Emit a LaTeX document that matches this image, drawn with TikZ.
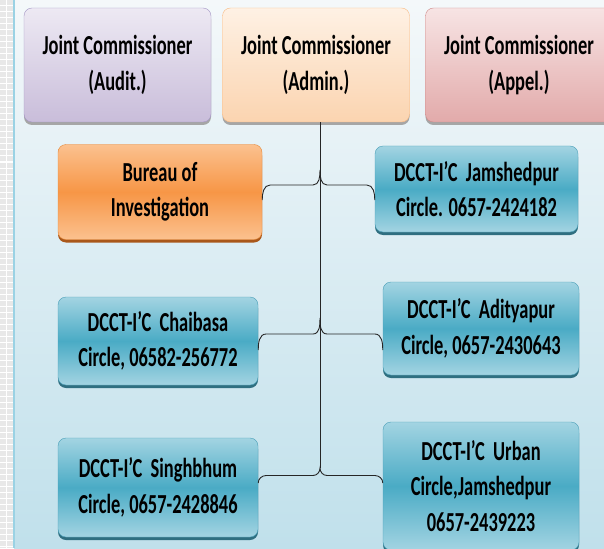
\documentclass[tikz,border=0pt]{standalone}
\usepackage{fontspec}
\setmainfont{Carlito}[FakeStretch=0.67]
\usetikzlibrary{shadows,calc}

\definecolor{panelTop}{HTML}{F4F8FA}
\definecolor{panelBot}{HTML}{C0E0EB}
\definecolor{panelLine}{HTML}{9AD2E4}
\definecolor{blueTop}{HTML}{A3D4E2}
\definecolor{blueMid}{HTML}{4AABC5}
\definecolor{blueLine}{HTML}{4A9FB8}
\definecolor{blueShade}{HTML}{2F6F80}
\definecolor{orgTop}{HTML}{FBC18F}
\definecolor{orgMid}{HTML}{F79646}
\definecolor{orgLine}{HTML}{E58A3C}
\definecolor{orgShade}{HTML}{A9571A}
\definecolor{auditTop}{HTML}{EDE9F3}
\definecolor{auditBot}{HTML}{C9BDDA}
\definecolor{auditLine}{HTML}{A597C6}
\definecolor{adminTop}{HTML}{FEF1E4}
\definecolor{adminBot}{HTML}{FBD4B0}
\definecolor{adminLine}{HTML}{F8BC86}
\definecolor{appelTop}{HTML}{F7E4E4}
\definecolor{appelBot}{HTML}{E2AAAA}
\definecolor{appelLine}{HTML}{CF8A8A}

\tikzset{
  box/.style={rectangle,rounded corners=8pt,align=center,inner sep=2pt,
    font=\bfseries\fontsize{27.5}{35.5}\selectfont},
  headbox/.style={box,minimum width=187pt,minimum height=114pt,
    drop shadow={shadow xshift=0pt,shadow yshift=-3pt,fill=gray!70,opacity=1}},
  unitbox/.style={box,draw=blueLine,top color=blueTop,bottom color=blueTop,middle color=blueMid,
    drop shadow={shadow xshift=0pt,shadow yshift=-3pt,fill=blueShade,opacity=1}},
  link/.style={draw=black!85,line width=0.9pt}
}

% brace from left box to right box, tip on the trunk line
\newcommand{\bracelink}[4]{%
  \draw[link] ($(#1.east |- #3)+(0,-2*#4)$) to[out=90,in=180] ++(8,#4)
    -- ($(#3)+(-7,-#4)$) to[out=0,in=-90] (#3)
    to[out=-90,in=180] ++(7,-#4)
    -- ($(#2.west |- #3)+(-8,-#4)$) to[out=0,in=90] ++(8,-#4);
}

\begin{document}
\begin{tikzpicture}[x=1pt,y=1pt]
  \clip (0,0) rectangle (604,-548);
  % backdrop
  \shade[top color=panelTop,bottom color=panelBot] (14,0) rectangle (604,-548);
  \fill[gray!18] (0,0) rectangle (13,-548);
  \foreach \k in {0,...,92}
    \draw[white,line width=1pt] (0,-\k*6) -- (13,-\k*6);
  \draw[white,line width=1pt] (6.5,0) -- (6.5,-548);
  \draw[panelLine,line width=1.5pt] (14,0) -- (14,-548);

  % top row
  \node[headbox,draw=auditLine,top color=auditTop,bottom color=auditBot] (audit) at (117.5,-65)
    {Joint Commissioner\\(Audit.)};
  \node[headbox,draw=adminLine,top color=adminTop,bottom color=adminBot] (admin) at (316,-65)
    {Joint Commissioner\\(Admin.)};
  \node[headbox,draw=appelLine,top color=appelTop,bottom color=appelBot] (appel) at (519,-65)
    {Joint Commissioner\\(Appel.)};

  % circles
  \node[box,draw=orgLine,top color=orgTop,bottom color=orgTop,middle color=orgMid,
    drop shadow={shadow xshift=0pt,shadow yshift=-3pt,fill=orgShade,opacity=1},
    minimum width=204pt,minimum height=95pt] (bureau) at (160,-192)
    {Bureau of\\Investigation};
  \node[unitbox,minimum width=203pt,minimum height=86pt] (jamshedpur) at (476.5,-189)
    {DCCT-I'C~~Jamshedpur\\Circle. 0657-2424182};
  \node[unitbox,minimum width=200pt,minimum height=88pt] (chaibasa) at (158,-341)
    {DCCT-I'C~~Chaibasa\\Circle, 06582-256772};
  \node[unitbox,minimum width=196pt,minimum height=93pt] (adityapur) at (481,-328.5)
    {DCCT-I'C~~Adityapur\\Circle, 0657-2430643};
  \node[unitbox,minimum width=200pt,minimum height=99pt] (singhbhum) at (158,-487.5)
    {DCCT-I'C~~Singhbhum\\Circle, 0657-2428846};
  \node[unitbox,minimum width=196pt,minimum height=128pt] (urban) at (481,-486)
    {DCCT-I'C~~Urban\\Circle,Jamshedpur\\0657-2439223};

  % trunk and braces
  \coordinate (tip1) at (320,-170);
  \coordinate (tip2) at (320,-318);
  \coordinate (tip3) at (320,-468);
  \draw[link] (admin.south -| tip1) -- (tip3);
  \bracelink{bureau}{jamshedpur}{tip1}{15}
  \bracelink{chaibasa}{adityapur}{tip2}{16}
  \bracelink{singhbhum}{urban}{tip3}{7.5}
\end{tikzpicture}
\end{document}
